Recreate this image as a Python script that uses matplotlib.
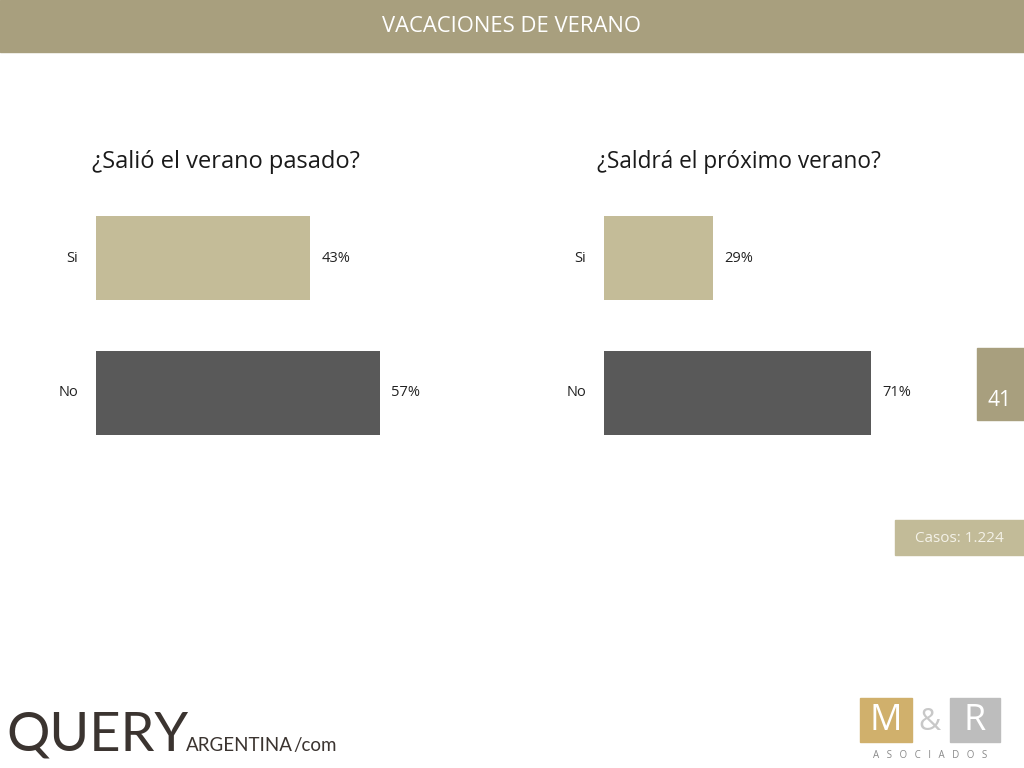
import matplotlib.pyplot as plt
from matplotlib.patches import Rectangle

plt.rcParams['font.family'] = ['Open Sans', 'DejaVu Sans']

# data
categorias = ['Si', 'No']
salio = [43, 57]
saldra = [29, 71]
titulos = ['¿Salió el verano pasado?', '¿Saldrá el próximo verano?']
colores = ['#C4BC98', '#595959']

W, H = 1024, 768
fig = plt.figure(figsize=(W / 100, H / 100), dpi=100)
fig.patch.set_facecolor('white')


def px(x, y, w, h):
    # pixel box (top-left origin) -> figure fraction
    return [x / W, 1 - (y + h) / H, w / W, h / H]


# header bar
fig.patches.append(Rectangle((0, 1 - 52 / H), 1, 52 / H, transform=fig.transFigure,
                             color='#A89F7E', zorder=0))
fig.text(0.5, 1 - 27 / H, 'VACACIONES DE VERANO', color='white', fontsize=15.8,
         ha='center', va='center')

hbar = 0.625


def panel(x0, ancho, valores, titulo, tx, fs):
    ax = fig.add_axes(px(x0, 216, ancho, 219))
    ax.barh(range(len(valores)), valores, height=hbar, color=colores)
    ax.set_xlim(0, max(valores))
    ax.set_ylim(len(valores) - 1 + hbar / 2, -hbar / 2)
    ax.axis('off')
    for i, v in enumerate(valores):
        ax.annotate(f'{v}%', (v, i), xytext=(8, 0), textcoords='offset points',
                    va='center', ha='left', fontsize=10.5, color='#222222',
                    annotation_clip=False)
        ax.annotate(categorias[i], (0, i), xytext=(-13, 0), textcoords='offset points',
                    va='center', ha='right', fontsize=10.5, color='#222222',
                    annotation_clip=False)
    fig.text(tx / W, 1 - 162 / H, titulo, fontsize=fs, color='#1a1a1a',
             ha='left', va='center')


panel(96, 284, salio, titulos[0], 92, 17)
panel(604, 267, saldra, titulos[1], 597, 16.3)

# page number box
fig.patches.append(Rectangle((977 / W, 1 - 420 / H), 47 / W, 72 / H,
                             transform=fig.transFigure, color='#A89F7E'))
fig.text(1000 / W, 1 - 400 / H, '41', color='white', fontsize=15, ha='center', va='center')

# casos box
fig.patches.append(Rectangle((895 / W, 1 - 555 / H), 129 / W, 35 / H,
                             transform=fig.transFigure, color='#C2BB98'))
fig.text(959 / W, 1 - 539 / H, 'Casos: 1.224', color='#F4F2E8', fontsize=11,
         ha='center', va='center')

# QUERY ARGENTINA logo
logo = dict(color='#3B3430', family=['Lato', 'DejaVu Sans'], ha='left', va='baseline')
fig.text(6 / W, 1 - 751 / H, 'QUERY', fontsize=39, **logo)
fig.text(186 / W, 1 - 751 / H, 'ARGENTINA', fontsize=13.5, **logo)
fig.text(293 / W, 1 - 751 / H, '/com', fontsize=13.5, **logo)

# M&R logo
fig.patches.append(Rectangle((860 / W, 1 - 742 / H), 52 / W, 44 / H,
                             transform=fig.transFigure, color='#D0B06C'))
fig.text(886 / W, 1 - 721 / H, 'M', color='white', fontsize=26, ha='center', va='center')
fig.text(929 / W, 1 - 722 / H, '&', color='#C8C8C8', fontsize=22, ha='center', va='center')
fig.patches.append(Rectangle((950 / W, 1 - 742 / H), 50 / W, 44 / H,
                             transform=fig.transFigure, color='#BDBDBD'))
fig.text(975 / W, 1 - 721 / H, 'R', color='white', fontsize=26, ha='center', va='center')
fig.text(930 / W, 1 - 756 / H, 'A   S   O   C   I   A   D   O   S', color='#8A8A8A',
         fontsize=7, ha='center', va='center')

fig.savefig('out.png', dpi=100, facecolor='white')
